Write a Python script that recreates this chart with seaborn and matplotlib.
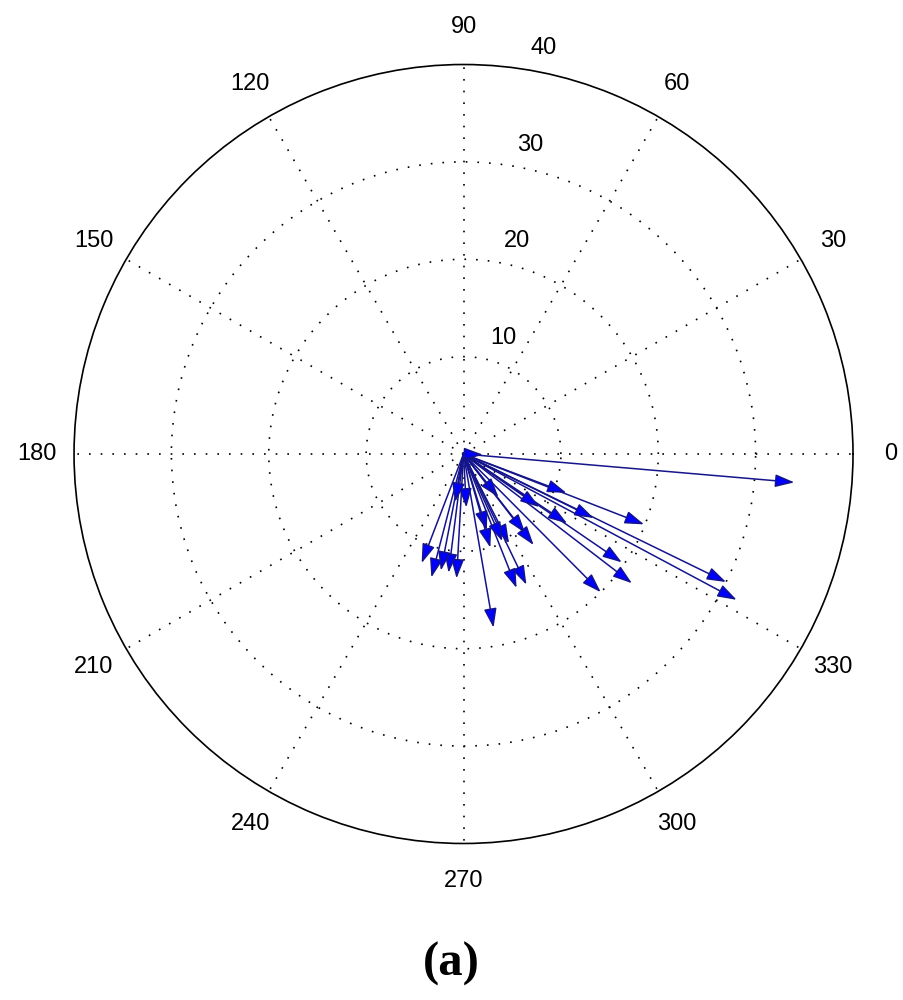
import numpy as np
import pandas as pd
import matplotlib
matplotlib.use("Agg")
import matplotlib.pyplot as plt
import seaborn as sns

# Compass vectors: direction (degrees) and magnitude
angles_deg = [-4.9, -21.3, -26.0, -28.1, -37.5, -34.4, -45.2, -52.4, -64.3, -68.4,
              -80.2, -93.2, -97.2, -104.6, -111.0, -101.0, -20.7, -26.2, -33.8, -35.0,
              -51.0, -63.0, -73.0, -87.0, -52.0, -2.0, -100.0, -74.0, -66.0]
magnitudes = [34.1, 19.9, 30.0, 31.8, 21.8, 19.7, 20.0, 11.8, 14.9, 14.8,
              18.1, 12.8, 12.3, 13.1, 12.0, 12.2, 11.3, 14.9, 12.8, 9.5,
              5.7, 10.3, 8.2, 5.5, 10.3, 2.0, 5.0, 10.0, 9.8]
theta_ticks = list(range(0, 360, 30))
r_ticks = [10, 20, 30, 40]
panel_label = "(a)"

df = pd.DataFrame({"theta": np.deg2rad(angles_deg), "r": magnitudes})

sns.set_theme(style="white")
plt.rcParams["font.family"] = ["Liberation Sans", "DejaVu Sans"]
plt.rcParams["text.color"] = "black"

fig = plt.figure(figsize=(9.04, 10), dpi=100)
ax = fig.add_axes([0.0819, 0.1565, 0.8617, 0.779], projection="polar")
ax.set_ylim(0, 40)
ax.set_rticks(r_ticks[:-1])
ax.set_yticklabels([])
ax.set_thetagrids(theta_ticks, labels=[""] * len(theta_ticks))
ax.grid(True, color="black", linestyle=(0, (1, 6)), linewidth=1.2)
ax.spines["polar"].set_color("black")
ax.spines["polar"].set_linewidth(1.2)
ax.tick_params(length=0)

# angle labels
for a in theta_ticks:
    ax.text(np.deg2rad(a), 40 * 1.096, str(a), ha="center", va="center",
            fontsize=17, color="black", clip_on=False)
# radial labels
for rv in r_ticks:
    ax.annotate(str(rv), xy=(np.deg2rad(82), rv), xytext=(18.7, 14.4),
                textcoords="offset points", ha="center", va="center",
                fontsize=17, color="black", annotation_clip=False)

# compass arrows
for _, row in df.iterrows():
    ax.annotate("", xy=(row["theta"], row["r"]), xytext=(0, 0),
                arrowprops=dict(arrowstyle="-|>,head_length=0.9,head_width=0.3",
                                ec="#14148c", fc="#0000ff", lw=1.1, shrinkA=0, shrinkB=0,
                                mutation_scale=13))

fig.text(0.4995, 0.036, panel_label, ha="center", va="center", fontsize=35,
         fontweight="bold", family="Liberation Serif", color="black")

fig.savefig("out.png", dpi=100, facecolor="white")
